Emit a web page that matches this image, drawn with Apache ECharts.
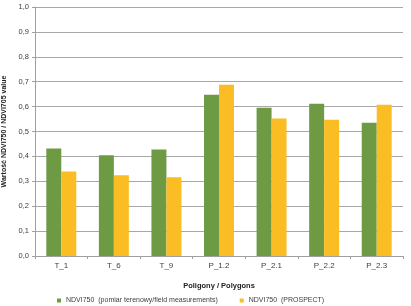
<!DOCTYPE html>
<html><head><meta charset="utf-8">
<script src="https://cdn.jsdelivr.net/npm/echarts@6/dist/echarts.min.js"></script>
<style>html,body{margin:0;padding:0;background:#fff}#c{width:411px;height:306px}</style>
</head><body><div id="c"></div>
<script>
const categories = ['T_1','T_6','T_9','P_1.2','P_2.1','P_2.2','P_2.3'];
const fieldValues = [0.432, 0.405, 0.428, 0.648, 0.595, 0.611, 0.535];
const prospectValues = [0.339, 0.324, 0.316, 0.688, 0.552, 0.547, 0.607];
const seriesNames = ['NDVI750  (pomiar terenowy/field measurements)', 'NDVI750  (PROSPECT)'];
const yTicks = [0,0.1,0.2,0.3,0.4,0.5,0.6,0.7,0.8,0.9,1.0];

const chart = echarts.init(document.getElementById('c'));
const font = '"Liberation Sans", Arial, sans-serif';
chart.setOption({
  animation: false,
  textStyle: {fontFamily: font},
  grid: {left: 35, right: 8, top: 7, bottom: 50, containLabel: false, outerBoundsMode: 'none'},
  legend: {
    top: 292, left: 52, itemWidth: 4, itemHeight: 4, itemGap: 22,
    icon: 'rect',
    textStyle: {fontSize: 7, color: '#404040', fontFamily: font},
    data: seriesNames
  },
  xAxis: {
    type: 'category', data: categories,
    name: 'Poligony / Polygons', nameLocation: 'middle', nameGap: 26,
    nameTextStyle: {fontSize: 7.5, fontWeight: 'bold', color: '#222'},
    axisLine: {lineStyle: {color: '#a0a0a0'}},
    axisTick: {show: true, length: 3, lineStyle: {color: '#a0a0a0'}},
    axisLabel: {fontSize: 8, color: '#404040', margin: 6}
  },
  yAxis: {
    type: 'value', min: 0, max: 1, interval: 0.1,
    name: 'Wartość NDVI750 / NDVI705 value', nameLocation: 'middle', nameGap: 23,
    nameTextStyle: {fontSize: 7, fontWeight: 'bold', color: '#222'},
    axisLine: {show: true, lineStyle: {color: '#a0a0a0'}},
    axisTick: {show: true, length: 3, lineStyle: {color: '#a0a0a0'}},
    splitLine: {lineStyle: {color: '#a8a8a8'}},
    axisLabel: {fontSize: 7.5, color: '#404040', margin: 6,
      formatter: v => v.toFixed(1).replace('.', ',')}
  },
  series: [
    {name: seriesNames[0], type: 'bar', data: fieldValues, barGap: '0%', barCategoryGap: '43%',
     itemStyle: {color: '#6e9a44'}},
    {name: seriesNames[1], type: 'bar', data: prospectValues,
     itemStyle: {color: '#fbbd24'}}
  ]
});
</script></body></html>
